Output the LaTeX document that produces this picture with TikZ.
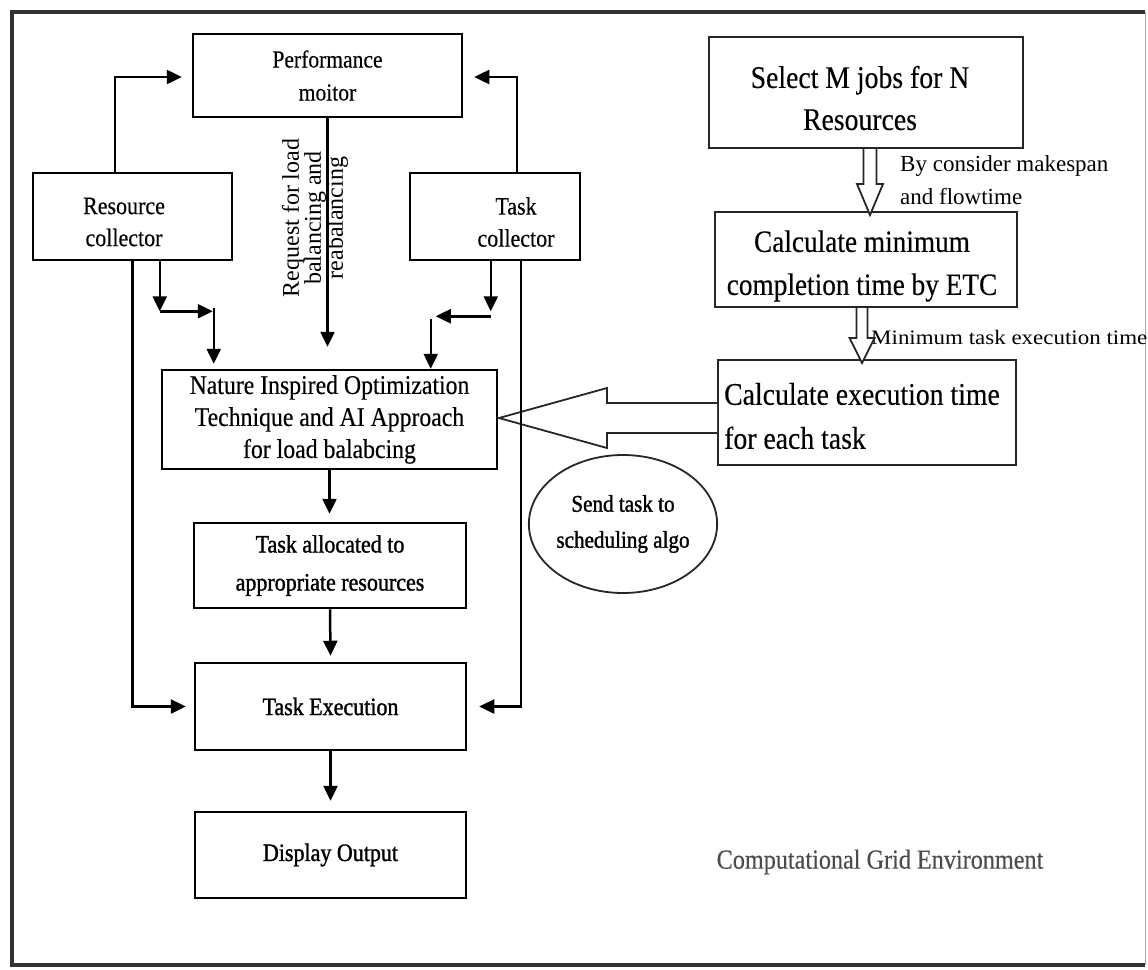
\documentclass[tikz,border=0pt]{standalone}
\usepackage{fontspec}
\setmainfont{Liberation Serif}[FakeStretch=0.88, FakeBold=0.3]
\newfontfamily\plainf{Liberation Serif}
\newfontfamily\widef{Liberation Serif}[FakeStretch=1.12]
\newfontfamily\heavyf{Liberation Serif}[FakeStretch=0.88, FakeBold=1.3]
\usetikzlibrary{arrows.meta,calc,shapes.geometric}
\newcommand{\myfs}[2]{\fontsize{#1}{#2}\selectfont}
\begin{document}
\begin{tikzpicture}[x=1pt,y=-1pt,
  box/.style={draw, line width=2.5pt, inner sep=0pt, align=center},
  rbox/.style={draw=black!85, line width=2pt, inner sep=0pt, align=center},
  arr/.style={line width=2.5pt, -{Triangle[length=15pt,width=14pt]}},
  hollow/.style={draw=black!85, line width=1.8pt, fill=white, line join=miter},
  txt/.style={inner sep=0pt, align=center}]
\useasboundingbox (0,0) rectangle (1148,969);
% frame
\draw[line width=4pt, black!80] (1145,12) -- (12,12) -- (12,965) -- (1145,965);
\draw[line width=1pt, black!35] (1145,12) -- (1145,965);

% left column boxes
\node[box, minimum width=269pt, minimum height=83pt, font={\myfs{24.5}{33}}] (perf) at (327.5,75.5) {Performance\\moitor};
\node[box, minimum width=199pt, minimum height=87pt] (rc) at (132.5,216.5) {};
\node[txt, font={\myfs{25}{32}}] (rct) at (124,222) {Resource\\collector};
\node[box, minimum width=170pt, minimum height=87pt] (tc) at (495,216.5) {};
\node[txt, font={\myfs{25}{32}}] (tct) at (516,222) {Task\\collector};
\node[box, minimum width=335pt, minimum height=99pt, font={\myfs{27}{32}}] (nio) at (329.5,419.5) {Nature Inspired Optimization\\Technique and AI Approach\\for load balabcing};
\node[box, minimum width=272pt, minimum height=85pt, font={\heavyf\myfs{25}{38}}] (ta) at (330,565.5) {Task allocated to\\appropriate resources};
\node[box, minimum width=271pt, minimum height=87pt, font={\heavyf\myfs{25}{32}}] (te) at (330.5,706.5) {Task Execution};
\node[box, minimum width=271pt, minimum height=86pt, font={\heavyf\myfs{25}{32}}] (disp) at (330.5,855) {Display Output};

% rotated label
\node[txt, rotate=90, font={\plainf\myfs{24}{22}}] (req) at (315,218) {Request for load\\balancing and\\reabalancing};

% right column
\node[rbox, minimum width=314pt, minimum height=111pt] (sel) at (866,92.5) {};
\node[txt, font={\myfs{31.5}{42}}] (selt) at (860,98) {Select M jobs for N\\Resources};
\node[rbox, minimum width=302pt, minimum height=95pt] (cmin) at (866,259.5) {};
\node[txt, font={\myfs{31}{43}}] (cmint) at (862,266) {Calculate minimum\\completion time by ETC};
\node[rbox, minimum width=298pt, minimum height=105pt] (cexe) at (867,412.5) {};
\node[inner sep=0pt, align=left, anchor=west, font={\myfs{31.5}{44}}] (cexet) at (724,416) {Calculate execution time\\for each task};

\node[ellipse, draw=black!85, line width=1.8pt, minimum width=177pt, minimum height=138pt, inner sep=0pt, align=center, font={\heavyf\myfs{24}{36}}] (send) at (623,524) {Send task to\\scheduling algo};

\node[inner sep=0pt, align=left, anchor=west, font={\plainf\myfs{23}{33}}] (lab1) at (900,180) {By consider makespan\\and flowtime};
\node[inner sep=0pt, anchor=west, font={\widef\myfs{20.5}{24}}] (lab2) at (871,337) {Minimum task execution time};

\node[txt, text=black!70, font={\myfs{27.5}{32}}] (cge) at (880,862) {Computational Grid Environment};

% hollow arrows
\draw[hollow] ($(sel.south)+(-2.5,0)$) -- ++(0,35) -- ++(-6.5,0) -- ++(13,31) -- ++(13,-31) -- ++(-6.5,0) -- ++(0,-35);
\draw[hollow] ($(cmin.south)+(-9.5,0)$) -- ++(0,30) -- ++(-7,0) -- ++(12.5,25) -- ++(12.5,-25) -- ++(-7,0) -- ++(0,-30);
\draw[hollow] ($(cexe.west)+(0,-9.5)$) -- ++(-110,0) -- ++(0,-15) -- ++(-108,30) -- ++(108,30) -- ++(0,-15) -- ++(110,0);

% connectors to performance monitor
\coordinate (rcA) at ($(rc.north west)+(83,0)$);
\draw[arr] (rcA) |- ($(perf.west)+(-10,1.5)$);
\coordinate (tcA) at ($(tc.north west)+(108,0)$);
\draw[arr] (tcA) |- ($(perf.east)+(11,1.5)$);
\draw[arr] (perf.south) -- ($(perf.south |- nio.north)+(0,-22)$);

% resource collector split
\coordinate (rs1) at ($(rc.south west)+(128,0)$);
\coordinate (rs2) at ($(rs1)+(0,50)$);
\coordinate (rs3) at ($(rs2)+(53,0)$);
\coordinate (rs4) at ($(rs3)+(1,-3)$);
\draw[arr] (rs1) -- (rs2);
\draw[arr] (rs2) -- (rs3);
\draw[arr, shorten >=5pt] (rs4) -- (rs4 |- nio.north);

% task collector split
\coordinate (ts1) at ($(tc.south west)+(82,0)$);
\coordinate (ts2) at ($(ts1)+(0,50)$);
\coordinate (ts3) at ($(ts1)+(0,55)$);
\coordinate (ts4) at ($(ts3)+(-55,0)$);
\coordinate (ts5) at ($(ts4)+(-5,3)$);
\draw[arr] (ts1) -- (ts2);
\draw[arr] (ts3) -- (ts4);
\draw[arr] (ts5) -- (ts5 |- nio.north);

% long side lines to task execution
\draw[arr] (rc.south) |- ($(te.west)+(-8,0)$);
\coordinate (tcB) at ($(tc.south west)+(112,0)$);
\draw[arr] (tcB) |- ($(te.east)+(12,0)$);

% vertical chain
\draw[arr] (nio.south) -- ($(nio.south |- ta.north)+(0,-8)$);
\draw[arr] (ta.south) -- ($(te.north)+(0,-6)$);
\draw[arr] (te.south) -- ($(disp.north)+(0,-10)$);
\end{tikzpicture}
\end{document}
